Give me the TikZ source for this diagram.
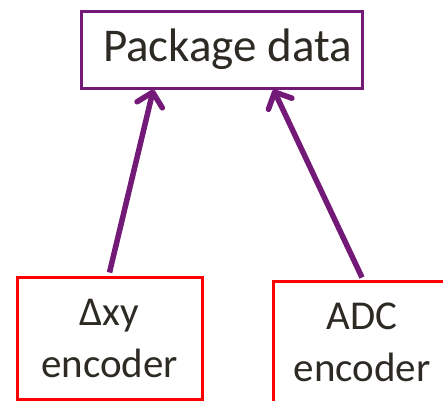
\documentclass[tikz,border=0pt]{standalone}
\usepackage{fontspec}
\setmainfont{Carlito}
\usetikzlibrary{arrows.meta,calc}
\definecolor{pur}{RGB}{115,25,120}
\definecolor{txt}{RGB}{45,42,36}
\begin{document}
\begin{tikzpicture}[x=1pt,y=1pt,
 topbox/.style={draw=pur,line width=3pt,minimum width=281pt,minimum height=77pt,inner sep=0pt,text=txt,font=\fontsize{47}{56}\selectfont},
 encbox/.style={draw=red,line width=3pt,inner sep=0pt,text=txt,align=center,font=\fontsize{41}{52}\selectfont},
 arr/.style={draw=pur,line width=5.5pt,-{Straight Barb[length=13pt,width=26pt,line cap=round,line join=round]}}
]
\useasboundingbox (0,0) rectangle (443,-400);
\node[topbox] (pd) at (221.5,-49.5) {\hspace*{12pt}Package data};
\node[encbox,minimum width=185pt,minimum height=122pt] (lb) at (109.5,-338) {Δxy\\encoder};
\node[encbox,minimum width=178pt,minimum height=140pt,text depth=18pt] (rb) at (362,-351) {ADC\\encoder};
\draw[arr] ([yshift=3pt]lb.north) -- ($(pd.south west)!0.26!(pd.south east)$);
\draw[arr] ([yshift=2pt]rb.north) -- ($(pd.south west)!0.683!(pd.south east)$);
\end{tikzpicture}
\end{document}
